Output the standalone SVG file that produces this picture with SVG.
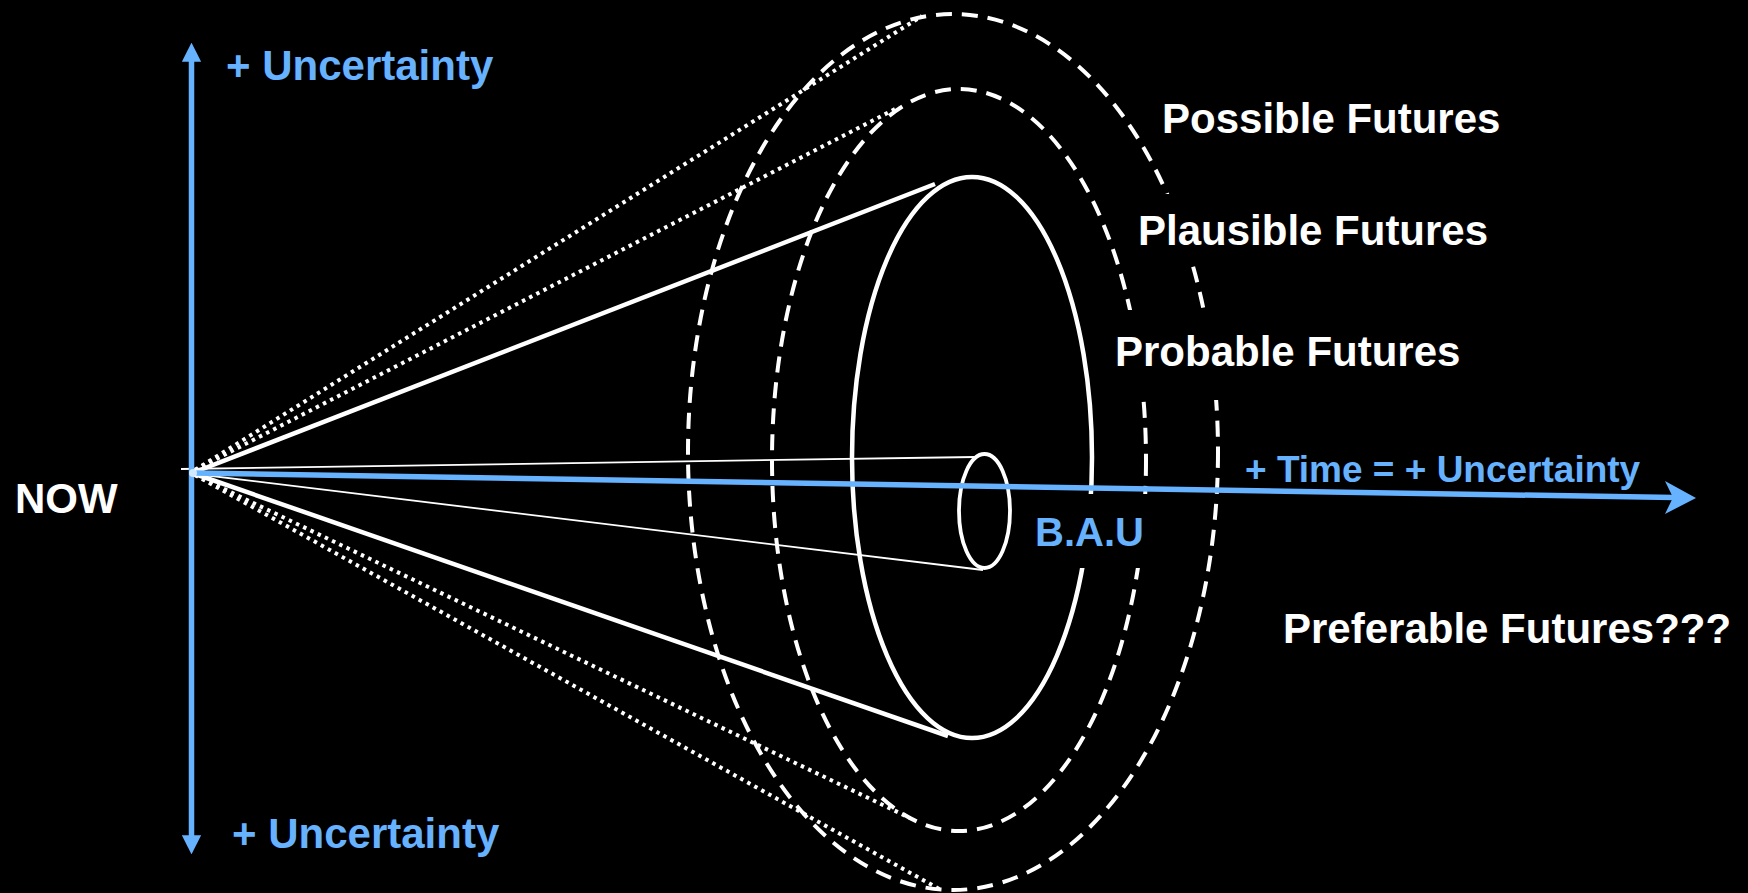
<svg xmlns="http://www.w3.org/2000/svg" width="1748" height="893" viewBox="0 0 1748 893">
<style>
.lbl{font-family:"Liberation Sans",Arial,sans-serif;font-weight:bold;font-size:42px;fill:#ffffff}
.blue{fill:#66B2FF}
.box{fill:#000000}
.dashed{fill:none;stroke:#ffffff;stroke-width:4;stroke-dasharray:16 10}
.solid{fill:none;stroke:#ffffff;stroke-width:4.5}
.dotted{fill:none;stroke:#ffffff;stroke-width:4;stroke-dasharray:3.5 4.5}
.thin{fill:none;stroke:#ffffff;stroke-width:1.8}
.axis{fill:none;stroke:#66B2FF;stroke-width:5.5}
</style>
<defs>
<marker id="tri" viewBox="0 0 10 10" refX="2" refY="5" markerWidth="3.5" markerHeight="3.5" orient="auto" markerUnits="strokeWidth">
<path d="M0,0 L10,5 L0,10 Z" fill="#66B2FF"/>
</marker>
</defs>
<rect x="0" y="0" width="1748" height="893" fill="#000000"/>

<g id="connectors">
<line class="dotted" x1="195" y1="470" x2="922" y2="16"/>
<line class="dotted" x1="195" y1="470" x2="899" y2="107"/>
<line class="dotted" x1="195" y1="475" x2="910" y2="818"/>
<line class="dotted" x1="195" y1="475" x2="941" y2="890"/>
<line class="solid" x1="195" y1="472" x2="935" y2="184"/>
<line class="solid" x1="195" y1="474" x2="948" y2="736"/>
<line class="thin" x1="181" y1="469" x2="975" y2="457"/>
<line class="thin" x1="195" y1="474" x2="983" y2="570"/>
</g>

<g id="possible-ellipse"><ellipse class="dashed" cx="953" cy="452" rx="265" ry="438"/></g>
<g id="plausible-ellipse"><ellipse class="dashed" cx="959" cy="460" rx="187" ry="371"/></g>
<g id="probable-ellipse"><ellipse class="solid" cx="972" cy="457.5" rx="120" ry="280.5"/></g>
<g id="bau-ellipse"><ellipse class="solid" style="stroke-width:3.8" cx="984.5" cy="511" rx="25.5" ry="57"/></g>

<g id="label-possible"><rect class="box" x="1152" y="90" width="360" height="60"/><text class="lbl" x="1162" y="133">Possible Futures</text></g>
<g id="label-plausible"><rect class="box" x="1130" y="194" width="370" height="70"/><text class="lbl" x="1138" y="245">Plausible Futures</text></g>
<g id="label-probable"><rect class="box" x="1105" y="310" width="365" height="90"/><text class="lbl" x="1115" y="366">Probable Futures</text></g>
<g id="label-bau"><rect class="box" x="1022" y="494" width="136" height="74"/><text class="lbl blue" style="font-size:40px" x="1035" y="546">B.A.U</text></g>
<g id="label-preferable"><text class="lbl" x="1283" y="643">Preferable Futures???</text></g>
<g id="label-now"><text class="lbl" x="15" y="513">NOW</text></g>
<g id="label-up"><text class="lbl blue" x="226" y="80">+ Uncertainty</text></g>
<g id="label-down"><text class="lbl blue" x="232" y="848">+ Uncertainty</text></g>
<g id="label-time"><text class="lbl blue" style="font-size:37px" x="1245" y="482">+ Time = + Uncertainty</text></g>

<g id="axes">
<line class="axis" x1="191.5" y1="473" x2="191.5" y2="58" marker-end="url(#tri)"/>
<line class="axis" x1="191.5" y1="473" x2="191.5" y2="839" marker-end="url(#tri)"/>
<line class="axis" x1="193" y1="473" x2="1674" y2="497.6"/>
<path d="M1696,498 L1665,481 L1673,497.6 L1665,514 Z" fill="#66B2FF"/>
<circle cx="193" cy="473" r="4" fill="#ffffff" opacity="0.7"/>
</g>
</svg>
